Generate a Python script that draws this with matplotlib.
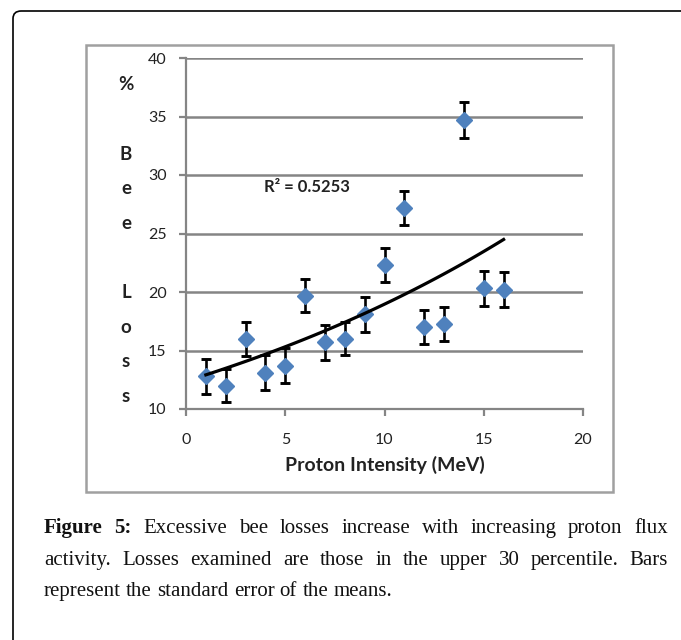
import numpy as np
import matplotlib
matplotlib.use("Agg")
import matplotlib.pyplot as plt
from matplotlib.patches import FancyBboxPatch, Rectangle

# Dữ liệu
proton = [1, 2, 3, 4, 5, 6, 7, 8, 9, 10, 11, 12, 13, 14, 15, 16]
bee_loss = [12.8, 12.0, 16.0, 13.1, 13.7, 19.7, 15.7, 16.0, 18.1, 22.3, 27.2, 17.0, 17.3, 34.7, 20.3, 20.2]
std_err = [1.5, 1.4, 1.45, 1.5, 1.5, 1.45, 1.5, 1.4, 1.5, 1.45, 1.45, 1.45, 1.45, 1.5, 1.5, 1.5]
x_ticks = [0, 5, 10, 15, 20]
y_ticks = [10, 15, 20, 25, 30, 35, 40]
r2_text = "R\u00b2 = 0.5253"
ylabel_chars = ["%", "", "B", "e", "e", "", "L", "o", "s", "s"]

W, H = 681, 640
FONT = "Lato"
SERIF = "Liberation Serif"
CAP_SIZE = 15
GRID = "#858585"


def fx(px):
    return px / W


def fy(py):
    return 1 - py / H


def justify_line(fig, renderer, words, y_px, x0, x1, justify=True):
    # words: list of (text, weight); y_px là đường chân chữ (baseline)
    texts = []
    for w, weight in words:
        t = fig.text(0, fy(y_px), w, fontsize=CAP_SIZE, family=SERIF,
                     fontweight=weight, va="baseline", ha="left", color="#111111")
        texts.append(t)
    widths = [t.get_window_extent(renderer).width for t in texts]
    if justify:
        gap = (x1 - x0 - sum(widths)) / (len(words) - 1)
    else:
        sp = fig.text(0, 0, "a a", fontsize=CAP_SIZE, family=SERIF)
        sp2 = fig.text(0, 0, "aa", fontsize=CAP_SIZE, family=SERIF)
        gap = sp.get_window_extent(renderer).width - sp2.get_window_extent(renderer).width
        sp.remove()
        sp2.remove()
    x = x0
    for t, w in zip(texts, widths):
        t.set_x(fx(x))
        x += w + gap


def main():
    fig = plt.figure(figsize=(W / 100, H / 100), dpi=100)

    # khung ngoài bo góc
    frame = FancyBboxPatch((fx(13), fy(700)), fx(760), fy(11) - fy(700),
                           boxstyle="round,pad=0,rounding_size=0.012",
                           transform=fig.transFigure, fill=False,
                           edgecolor="black", linewidth=1.2)
    fig.patches.append(frame)

    # khung biểu đồ
    box = Rectangle((fx(86), fy(492)), fx(613) - fx(86), fy(45) - fy(492),
                    transform=fig.transFigure, fill=False,
                    edgecolor="#a0a0a0", linewidth=1.8)
    fig.patches.append(box)

    ax = fig.add_axes([fx(186), fy(409), fx(583) - fx(186), fy(58) - fy(409)])
    ax.set_xlim(0, 20)
    ax.set_ylim(10, 40)
    ax.set_xticks(x_ticks)
    ax.set_yticks(y_ticks)
    ax.set_xticklabels([str(v) for v in x_ticks], family=FONT, fontsize=11.5, color="#222222")
    ax.set_yticklabels([str(v) for v in y_ticks], family=FONT, fontsize=11.5, color="#222222")
    ax.tick_params(axis="x", length=5, width=1.6, color=GRID, pad=12)
    ax.tick_params(axis="y", length=5, width=1.6, color=GRID, pad=9)
    for s in ["top", "right"]:
        ax.spines[s].set_visible(False)
    for s in ["left", "bottom"]:
        ax.spines[s].set_color(GRID)
        ax.spines[s].set_linewidth(1.6)
    ax.yaxis.grid(True, color=GRID, linewidth=1.8)
    ax.set_axisbelow(True)

    x = np.array(proton, dtype=float)
    y = np.array(bee_loss, dtype=float)

    ax.errorbar(x, y, yerr=std_err, fmt="none", ecolor="black",
                elinewidth=1.9, capsize=3.3, capthick=2.1, zorder=3)
    ax.plot(x, y, linestyle="none", marker="D", markersize=8,
            color="#4f81bd", markeredgecolor="#4f81bd", zorder=4)

    # đường xu hướng hàm mũ (kiểu Excel)
    b, ln_a = np.polyfit(x, np.log(y), 1)
    xs = np.linspace(x.min(), x.max(), 100)
    ax.plot(xs, np.exp(ln_a) * np.exp(b * xs), color="black", linewidth=2.3, zorder=5)

    ax.text(6.1, 29.0, r2_text, family=FONT, fontsize=12, fontweight="bold",
            color="#222222", ha="center", va="center")

    ax.set_xlabel("Proton Intensity (MeV)", family=FONT, fontsize=14,
                  fontweight="bold", color="#222222", labelpad=7)

    for i, ch in enumerate(ylabel_chars):
        if ch:
            fig.text(fx(126), fy(85 + 34.6 * i), ch, family=FONT, fontsize=13.5,
                     fontweight="bold", color="#222222", ha="center", va="center")

    # chú thích bên dưới
    fig.canvas.draw()
    renderer = fig.canvas.get_renderer()
    line1 = [("Figure", "bold"), ("5:", "bold")] + [(w, "normal") for w in
             "Excessive bee losses increase with increasing proton flux".split()]
    line2 = [(w, "normal") for w in
             "activity. Losses examined are those in the upper 30 percentile. Bars".split()]
    line3 = [(w, "normal") for w in "represent the standard error of the means.".split()]
    justify_line(fig, renderer, line1, 533, 44, 668)
    justify_line(fig, renderer, line2, 565, 44, 668)
    justify_line(fig, renderer, line3, 596, 44, 668, justify=False)

    fig.savefig("out.png", dpi=100)
    plt.close(fig)


if __name__ == "__main__":
    main()
